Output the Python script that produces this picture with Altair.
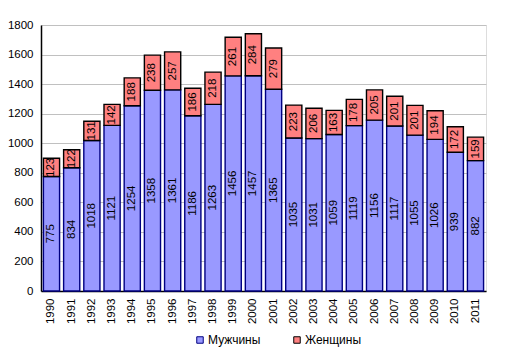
import altair as alt
import pandas as pd

years = [str(y) for y in range(1990, 2012)]
men = [775, 834, 1018, 1121, 1254, 1358, 1361, 1186, 1263, 1456, 1457, 1365,
       1035, 1031, 1059, 1119, 1156, 1117, 1055, 1026, 939, 882]
women = [123, 122, 131, 142, 188, 238, 257, 186, 218, 261, 284, 279,
         223, 206, 163, 178, 205, 201, 201, 194, 172, 159]
series = ["Мужчины", "Женщины"]
fills = ["#9999FF", "#FF8080"]
strokes = ["#000080", "#000000"]
y_ticks = [0, 200, 400, 600, 800, 1000, 1200, 1400, 1600, 1800]

rows = []
for y, m, w in zip(years, men, women):
    rows.append({"year": y, "sex": series[0], "start": 0, "end": m, "value": m, "mid": m / 2})
    rows.append({"year": y, "sex": series[1], "start": m, "end": m + w, "value": w, "mid": m + w / 2})
df = pd.DataFrame(rows)

FONT = "Liberation Sans"
FS = 11.5

x_axis = alt.Axis(labelAngle=270, labelFont=FONT, labelFontSize=FS,
                  labelColor="#000000", labelPadding=7, ticks=False,
                  domainColor="#000000", domainWidth=1.5)
x_scale = alt.Scale(paddingInner=0.2, paddingOuter=0.12)
y_axis = alt.Axis(values=y_ticks, tickCount=10, format="d", labelOverlap=False,
                  labelFont=FONT, labelFontSize=FS,
                  labelColor="#000000", ticks=False,
                  labelPadding=8, gridColor="#C0C0C0", gridWidth=1,
                  domainColor="#000000", domainWidth=1.5)
y_scale = alt.Scale(domain=[0, 1800], nice=False)

bars = alt.Chart(df).mark_bar(strokeWidth=1.4).encode(
    x=alt.X("year:N", title=None, sort=years, scale=x_scale, axis=x_axis),
    y=alt.Y("start:Q", title=None, scale=y_scale, axis=y_axis),
    y2="end:Q",
    color=alt.Color("sex:N", scale=alt.Scale(domain=series, range=fills),
                    title=None,
                    legend=alt.Legend(orient="none", direction="horizontal",
                                      legendX=153, legendY=309,
                                      symbolType="square", symbolSize=42,
                                      symbolStrokeColor="#000080",
                                      symbolStrokeWidth=1,
                                      labelFont=FONT, labelFontSize=12,
                                      labelColor="#000000", labelOffset=2,
                                      columnPadding=30)),
    stroke=alt.Stroke("sex:N", scale=alt.Scale(domain=series, range=strokes),
                      legend=None),
)

labels = alt.Chart(df).mark_text(angle=270, font=FONT, fontSize=FS,
                                 color="#000000", align="center",
                                 baseline="middle").encode(
    x=alt.X("year:N", title=None, sort=years, scale=x_scale, axis=x_axis),
    y=alt.Y("mid:Q", title=None, scale=y_scale, axis=y_axis),
    text="value:Q",
)

chart = alt.layer(bars, labels).properties(
    width=445, height=266,
    autosize=alt.AutoSizeParams(type="none"),
    padding={"left": 33, "top": 17, "right": 20, "bottom": 63},
).configure_view(stroke=None).configure(background="#FFFFFF")

chart.save("out.html", embed_options={"renderer": "svg", "actions": False})
